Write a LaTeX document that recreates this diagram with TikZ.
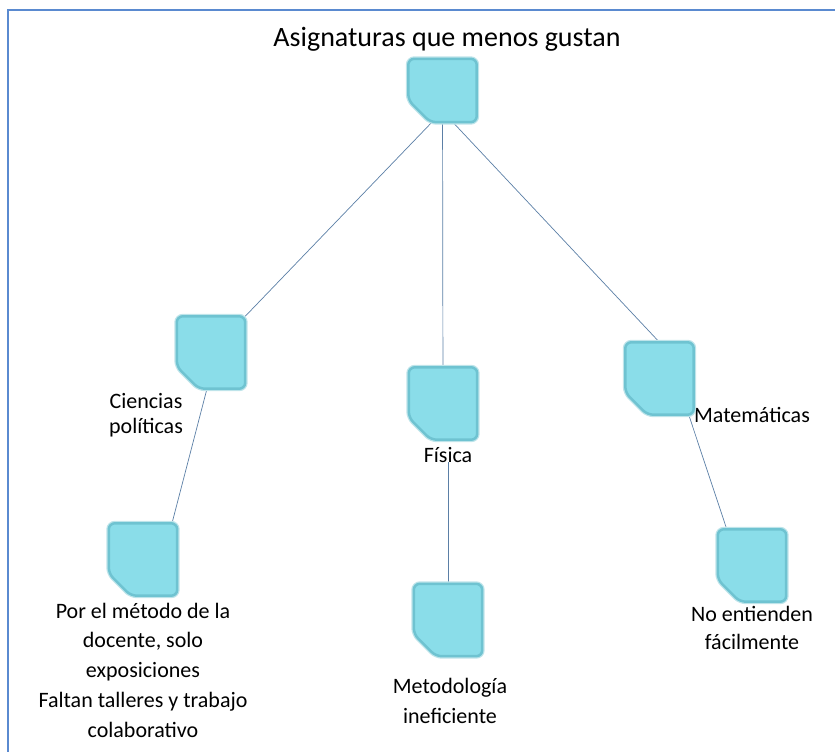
\documentclass[tikz,border=0pt]{standalone}
\usepackage{fontspec}
\setmainfont{Carlito}
\usetikzlibrary{positioning}
\definecolor{relleno}{HTML}{8ADDE9}
\definecolor{borde}{HTML}{6FC3D1}
\definecolor{linea}{HTML}{5B7FA6}
\definecolor{marco}{HTML}{5A8AD0}
\tikzstyle{carpeta} = [rectangle, minimum width=68pt, minimum height=72pt, inner sep=0pt]
\tikzstyle{etiqueta} = [align=center, inner sep=0pt, anchor=base, font=\fontsize{22}{29.7}\selectfont]
\tikzstyle{conector} = [draw=linea, line width=0.7pt]

\begin{document}
\begin{tikzpicture}[x=1pt, y=-1pt]
        \useasboundingbox (0,0) rectangle (835,752);
        \draw [marco, line width=2pt] (8,752) -- (8,10) -- (835,10);
        % carpetas
        \node (raiz) [carpeta, minimum height=63pt] at (442.5,90.5) {};
        \node (ciencias) [carpeta] at (211,352.5) {};
        \node (fisica) [carpeta] at (443,403.5) {};
        \node (mate) [carpeta] at (659.5,378.5) {};
        \node (metodo) [carpeta] at (143,559.5) {};
        \node (metodol) [carpeta] at (448,620) {};
        \node (entienden) [carpeta] at (752,565.5) {};
        % textos (base = ultima linea)
        \node (titulo) [etiqueta, font=\fontsize{28}{34}\selectfont] at (447,47) {Asignaturas que menos gustan};
        \node (lciencias) [etiqueta, font=\fontsize{22}{25}\selectfont] at (146,433) {Ciencias\\políticas};
        \node (lfisica) [etiqueta] at (448,462) {Física};
        \node (lmate) [etiqueta] at (752,422) {Matemáticas};
        \node (lmetodo) [etiqueta] at (143,737) {Por el método de la\\docente, solo\\exposiciones\\Faltan talleres y trabajo\\colaborativo};
        \node (lmetodol) [etiqueta, font=\fontsize{22}{30}\selectfont] at (450,723) {Metodología\\ineficiente};
        \node (lentienden) [etiqueta, font=\fontsize{22}{28}\selectfont] at (752,649) {No entienden\\fácilmente};
        % conectores
        \draw [conector] ([yshift=11pt]raiz.south) -- (ciencias.north east);
        \draw [conector] (raiz) -- (fisica);
        \draw [conector] ([yshift=11pt]raiz.south) -- (mate.north);
        \draw [conector] ([xshift=-4pt]ciencias.south) -- ([xshift=-6pt,yshift=-3pt]metodo.north east);
        \draw [conector] (lfisica.base) -- (metodol.north);
        \draw [conector] ([xshift=-5pt]mate.south east) -- ([xshift=9pt]entienden.north west);
        % formas de las carpetas
        \foreach \n in {raiz,ciencias,fisica,mate,metodo,metodol,entienden}
          \filldraw [preaction={draw=borde!45, line width=5pt}, fill=relleno, draw=borde, line width=2.5pt, rounded corners=6pt]
            (\n.north west) -- (\n.north east) -- (\n.south east) -- ([xshift=22pt]\n.south west) -- ([yshift=22pt]\n.south west) -- cycle;
\end{tikzpicture}
\end{document}
